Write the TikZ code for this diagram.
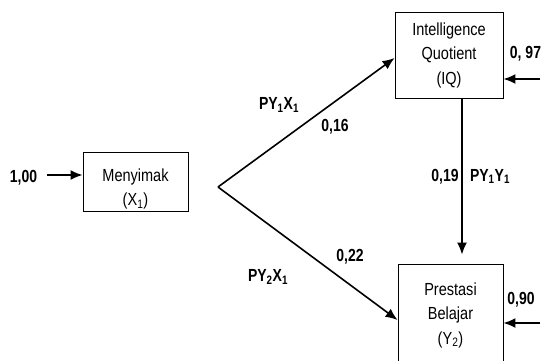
\documentclass[tikz,border=0pt]{standalone}
\usepackage{fontspec}
\setmainfont{Liberation Sans}
\newfontfamily\boxfont[FakeStretch=0.83]{Liberation Sans}
\newfontfamily\coeffont[FakeStretch=0.8]{Liberation Sans}
\usetikzlibrary{arrows.meta, positioning}

\tikzset{
	varbox/.style={draw, line width=0.9pt, align=center, inner sep=0pt,
		font=\boxfont\fontsize{17.5}{24.5}\selectfont},
	coef/.style={inner sep=0pt, font=\coeffont\bfseries\fontsize{17.5}{19}\selectfont},
	link/.style={-{Latex[length=12pt,width=10pt]}, line width=1.6pt}
}

\begin{document}
\begin{tikzpicture}[x=1pt,y=-1pt]
		\useasboundingbox (0,0) rectangle (541,360);
		% variables
		\node[varbox, minimum width=105pt, minimum height=59pt] (X1) at (135.5,181.5) {};
		\node[varbox, draw=none] (X1txt) at (135.5,189) {Menyimak\\(X\textsubscript{1})};
		\node[varbox, minimum width=108pt, minimum height=86pt] (IQ) at (449,55) {Intelligence\\Quotient\\(IQ)};
		\node[varbox, minimum width=105pt, minimum height=102pt] (Y2) at (450.5,315) {Prestasi\\Belajar\\(Y\textsubscript{2})};
		%%
		\coordinate (fork) at (218,187);
		\coordinate (inX1) at (47,175);
		\coordinate (inIQ) at (540,79);
		\coordinate (inY2) at (540,323);
		% coefficients
		\node[coef] (c100) at (23.5,177.5) {1,00};
		\node[coef] (c097) at (525.5,53.5) {0, 97};
		\node[coef] (c090) at (521,300) {0,90};
		\node[coef] (p1x1) at (279,105) {PY\textsubscript{1}X\textsubscript{1}};
		\node[coef] (c016) at (335,127) {0,16};
		\node[coef] (c022) at (350,257) {0,22};
		\node[coef] (p2x1) at (268,277) {PY\textsubscript{2}X\textsubscript{1}};
		\node[coef] (c019) at (445,176.5) {0,19};
		\node[coef] (p1y1) at (490,176.5) {PY\textsubscript{1}Y\textsubscript{1}};
		%%
		\draw[link] (inX1) -- (X1.west |- inX1);
		\draw[link] (fork) -- ([yshift=-3pt]IQ.west);
		\draw[link] (fork) -- ([yshift=-5pt]Y2.west);
		\draw[link, shorten >=9pt] ([xshift=13pt]IQ.south) -- ([xshift=11.5pt]Y2.north);
		\draw[link] (inIQ) -- (IQ.east |- inIQ);
		\draw[link] (inY2) -- (Y2.east |- inY2);
		
	\end{tikzpicture}
\end{document}
